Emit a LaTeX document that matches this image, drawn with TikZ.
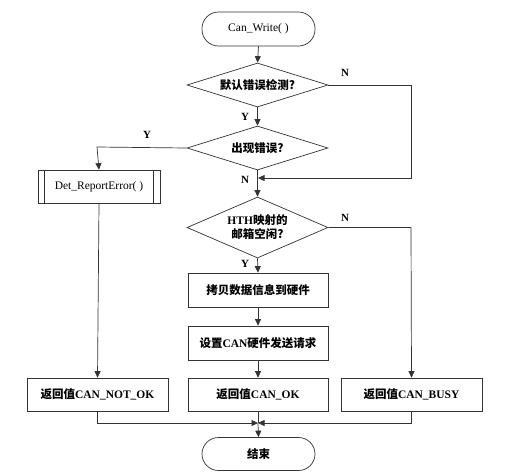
\documentclass[tikz,border=0pt]{standalone}
\usepackage{fontspec}
\setmainfont{Liberation Serif}
\newfontfamily\cjkf{Noto Sans CJK SC}
\newcommand{\cjk}{\cjkf\bfseries}
\usetikzlibrary{shapes.geometric,arrows.meta}
\begin{document}
\begin{tikzpicture}[x=1pt,y=-1pt,
  font=\fontsize{11.5}{14}\selectfont,
  line/.style={draw=black!80, line width=0.7pt},
  arr/.style={line, -{Triangle[length=6.5pt,width=6pt]}},
  term/.style={line, rectangle, rounded corners=16.5pt, minimum width=113pt, minimum height=34pt, inner sep=0pt},
  box/.style={line, rectangle, minimum width=140pt, minimum height=34pt, inner sep=0pt},
  dec/.style={line, diamond, minimum width=141pt, minimum height=44pt, inner sep=0pt, shape aspect=2.3},
  lab/.style={font=\fontsize{11}{13}\selectfont\bfseries, inner sep=0pt}]
\useasboundingbox (0,0) rectangle (522,475);
\fill[white] (0,0) rectangle (522,475);

\node[term] (start) at (258.5,29) {Can\_Write( )};
\node[dec] (d1) at (257.5,85) {\cjk 默认错误检测?};
\node[dec] (d2) at (257.5,148) {\cjk 出现错误?};
\node[box, minimum width=122pt, minimum height=33pt] (det) at (99,186.5) {Det\_ReportError( )};
\draw[line] ([xshift=7pt]det.north west) -- ([xshift=7pt]det.south west);
\draw[line] ([xshift=-7pt]det.north east) -- ([xshift=-7pt]det.south east);
\node[dec, minimum height=61pt, align=center] (d3) at (257.5,227.5) {\textbf{HTH}{\cjk 映射的}\\{\cjk 邮箱空闲?}};
\node[box] (copy) at (258,290) {\cjk 拷贝数据信息到硬件};
\node[box] (req) at (258,343) {{\cjk 设置}\textbf{CAN}{\cjk 硬件发送请求}};
\node[box, minimum width=141pt, minimum height=33pt] (r1) at (97.5,394.5) {{\cjk 返回值}\textbf{CAN\_NOT\_OK}};
\node[box, minimum height=33pt] (r2) at (258,394.5) {{\cjk 返回值}\textbf{CAN\_OK}};
\node[box, minimum width=141pt, minimum height=33pt] (r3) at (411.5,394.5) {{\cjk 返回值}\textbf{CAN\_BUSY}};
\node[term, minimum height=33pt] (end) at (258.5,454) {\cjk 结束};

\coordinate (j1) at (258,178);
\coordinate (k1) at (411,178);
\coordinate (k2) at (97,147);
\coordinate (k3) at (411,227.5);
\coordinate (m) at (258,423);

\draw[arr] (start.south) -- (d1.north);
\draw[arr] (d1.south) -- (d2.north);
\draw[arr] (d1.east) -| (k1) -- (j1);
\draw[arr] (d2.west) -- (k2) -- (det.north);
\draw[arr] (d2.south) -- (d3.north);
\draw[arr] (d3.east) -- (k3) -- (r3.north);
\draw[arr] (d3.south) -- (copy.north);
\draw[arr] (copy.south) -- (req.north);
\draw[arr] (req.south) -- (r2.north);
\draw[arr] (det.south) -- (r1.north);
\draw[arr] (r1.south) |- (m);
\draw[arr] (r3.south) |- (m);
\draw[line] (r2.south) -- (m);
\draw[arr] (m) -- (end.north);

\node[lab] (n1) at (345,73) {N};
\node[lab] (y1) at (245,117) {Y};
\node[lab] (y2) at (147,135) {Y};
\node[lab] (n2) at (245,180) {N};
\node[lab] (n3) at (345,218) {N};
\node[lab] (y3) at (245,264) {Y};
\end{tikzpicture}
\end{document}
